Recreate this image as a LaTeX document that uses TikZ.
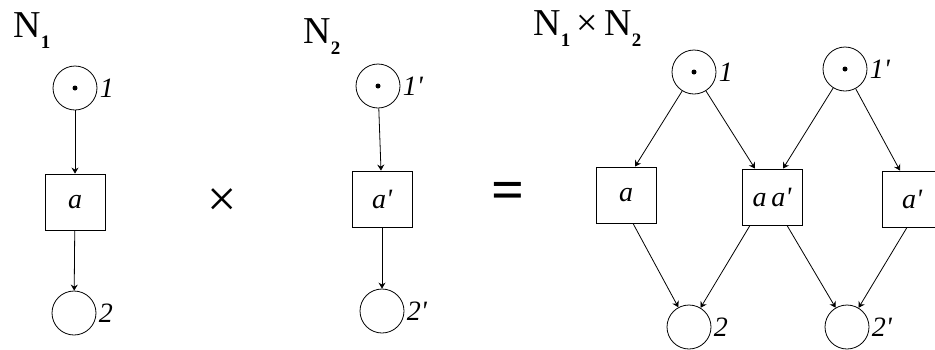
\documentclass[tikz,border=0pt]{standalone}
\usepackage{fontspec}
\setmainfont{Liberation Serif}
\usetikzlibrary{arrows.meta,positioning}

\begin{document}
\begin{tikzpicture}[
  x=1pt, y=-1pt, line width=0.8pt,
  place/.style={draw, circle, minimum size=44pt, inner sep=0pt},
  trans/.style={draw, minimum width=60pt, minimum height=56pt, inner sep=0pt,
                font=\fontsize{28}{28}\selectfont\itshape},
  token/.style={fill, circle, minimum size=5pt, inner sep=0pt},
  lbl/.style={font=\fontsize{28}{28}\selectfont\itshape, inner sep=1pt},
  title/.style={font=\fontsize{38}{38}\selectfont, inner sep=0pt, anchor=base west},
  op/.style={inner sep=0pt},
  arr/.style={-{Stealth[length=6pt,width=7pt,inset=2pt]}},
]
\clip (0,0) rectangle (935,349);
\newcommand{\sub}[1]{\raisebox{-0.3em}{\fontsize{19}{19}\selectfont\bfseries #1}}
\newcommand{\pr}{\textquotesingle}
% ---------------- N1 -----------------
\node[title] (n1) at (13,37) {N\sub{1}};
\node[place] (a1) at (75,88) {};
\node[token] at (a1) {};
\node[lbl, right=1pt of a1] (la1) {1};
\node[trans] (ta1) at (75,202) {a};
\node[place] (a2) at (74,313) {};
\node[lbl, right=1pt of a2] (la2) {2};
\draw[arr] (a1) -- (ta1);
\draw[arr] (ta1) -- (a2);
% ---------------- x -----------------
\node[op, font=\fontsize{52}{52}\selectfont] (times) at (222,203) {×};
% ---------------- N2 -----------------
\node[title] (n2) at (303,43) {N\sub{2}};
\node[place] (b1) at (378,86) {};
\node[token] at (b1) {};
\node[lbl, right=1pt of b1] (lb1) {1\pr};
\node[trans] (tb1) at (382,199) {a\pr};
\node[place] (b2) at (382,311) {};
\node[lbl, right=1pt of b2] (lb2) {2\pr};
\draw[arr] (b1) -- (tb1);
\draw[arr] (tb1) -- (b2);
% ---------------- = -----------------
\node[op, font=\fontsize{58}{58}\selectfont\bfseries] (eq) at (508,196) {=};
% ---------------- N1 x N2 -----------------
\node[title] (n12) at (533,35) {N\sub{1}\,×\,N\sub{2}};
\node[place] (p1) at (694,72) {};
\node[token] at (p1) {};
\node[lbl, right=1pt of p1] (lp1) {1};
\node[place] (q1) at (845,69) {};
\node[token] at (q1) {};
\node[lbl, right=1pt of q1] (lq1) {1\pr};
\node[trans] (ta) at (626,195) {a};
\node[trans] (taa) at (772,197) {a\,a\pr};
\node[trans] (tb) at (912,199) {a\pr};
\node[place] (p2) at (689,327) {};
\node[lbl, right=1pt of p2] (lp2) {2};
\node[place] (q2) at (847,327) {};
\node[lbl, right=1pt of q2] (lq2) {2\pr};
\draw[arr] (p1) -- ([xshift=9pt]ta.north);
\draw[arr] (p1) -- ([xshift=-17pt]taa.north);
\draw[arr] (q1) -- ([xshift=11pt]taa.north);
\draw[arr] (q1) -- ([xshift=-12pt]tb.north);
\draw[arr] ([xshift=7pt]ta.south) -- (p2);
\draw[arr] ([xshift=-22pt]taa.south) -- (p2);
\draw[arr] ([xshift=15pt]taa.south) -- (q2);
\draw[arr] ([xshift=-5pt]tb.south) -- (q2);
\end{tikzpicture}
\end{document}
